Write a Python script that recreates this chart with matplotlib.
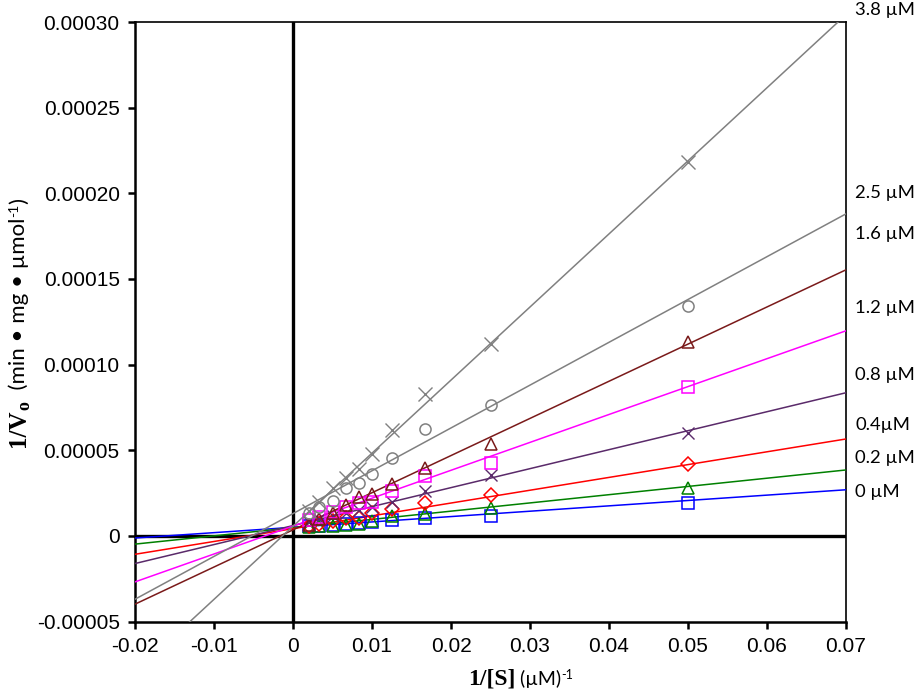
import matplotlib
matplotlib.use("Agg")
import matplotlib.pyplot as plt
import numpy as np

# ---- data ----
inv_S = [0.05, 0.025, 0.01667, 0.0125, 0.01, 0.00833, 0.00667, 0.005, 0.00333, 0.002]

series_labels = ["0 µM", "0.2 µM", "0.4µM", "0.8 µM", "1.2 µM", "1.6 µM", "2.5 µM", "3.8 µM"]

y_0   = [0.0000193, 0.0000115, 0.0000107, 0.0000095, 0.0000082, 0.0000075, 0.0000070, 0.0000062, 0.0000058, 0.0000055]
y_02  = [0.0000280, 0.0000165, 0.0000127, 0.0000117, 0.0000085, 0.0000072, 0.0000065, 0.0000058, 0.0000055, 0.0000050]
y_04  = [0.0000420, 0.0000239, 0.0000189, 0.0000156, 0.0000136, 0.0000107, 0.0000103, 0.0000085, 0.0000068, 0.0000056]
y_08  = [0.0000603, 0.0000356, 0.0000263, 0.0000195, 0.0000171, 0.0000152, 0.0000134, 0.0000115, 0.0000097, 0.0000082]
y_12  = [0.0000870, 0.0000428, 0.0000350, 0.0000259, 0.0000200, 0.0000193, 0.0000166, 0.0000140, 0.0000110, 0.0000090]
y_16  = [0.0001130, 0.0000535, 0.0000399, 0.0000302, 0.0000243, 0.0000224, 0.0000181, 0.0000136, 0.0000100, 0.0000065]
y_25  = [0.0001343, 0.0000765, 0.0000623, 0.0000454, 0.0000360, 0.0000311, 0.0000282, 0.0000204, 0.0000170, 0.0000136]
y_38  = [0.0002185, 0.0001120, 0.0000827, 0.0000617, 0.0000477, 0.0000389, 0.0000340, 0.0000282, 0.0000200, 0.0000146]

# fitted regression lines (slope, intercept)
slopes     = [0.000313, 0.000481, 0.000748, 0.001108, 0.001629, 0.002169, 0.002500, 0.004267]
intercepts = [0.0000050, 0.0000048, 0.0000042, 0.0000060, 0.0000057, 0.0000035, 0.0000130, 0.0000056]

label_y_px = [492, 458, 425, 375, 308, 234, 193, 10]  # figure pixel rows of right-side labels

x_ticks = [-0.02, -0.01, 0, 0.01, 0.02, 0.03, 0.04, 0.05, 0.06, 0.07]
x_tick_labels = ["-0.02", "-0.01", "0", "0.01", "0.02", "0.03", "0.04", "0.05", "0.06", "0.07"]
y_ticks = [-0.00005, 0, 0.00005, 0.0001, 0.00015, 0.0002, 0.00025, 0.0003]
y_tick_labels = ["-0.00005", "0", "0.00005", "0.00010", "0.00015", "0.00020", "0.00025", "0.00030"]

all_y = [y_0, y_02, y_04, y_08, y_12, y_16, y_25, y_38]
colors = ["#0000ff", "#008000", "#ff0000", "#5a2a6a", "#ff00ff", "#7a1a1a", "#808080", "#808080"]
markers = ["s", "^", "D", "x", "s", "^", "o", "x"]
msizes = [8, 9, 7, 9, 8, 9, 8, 10]

W, H = 916, 691
fig = plt.figure(figsize=(W / 100, H / 100), dpi=100)
left, right, top, bottom = 135, 846, 22, 621.5
ax = fig.add_axes([left / W, (H - bottom) / H, (right - left) / W, (bottom - top) / H])

ax.set_xlim(-0.02, 0.07)
ax.set_ylim(-0.00005, 0.0003)

xline = np.array([-0.02, 0.07])
for s, b, c in zip(slopes, intercepts, colors):
    ax.plot(xline, s * xline + b, color=c, lw=1.1, zorder=3)

for ys, c, m, ms in zip(all_y, colors, markers, msizes):
    if m == "x":
        ax.plot(inv_S, ys, linestyle="none", marker=m, color=c, ms=ms, mew=1.0, zorder=4)
    else:
        ax.plot(inv_S, ys, linestyle="none", marker=m, mfc="none", mec=c, ms=ms, mew=1.1, zorder=4)

ax.axhline(0, color="black", lw=2.4, zorder=2)
ax.axvline(0, color="black", lw=2.4, zorder=2)

for sp in ["left", "bottom"]:
    ax.spines[sp].set_linewidth(1.8)
for sp in ["right", "top"]:
    ax.spines[sp].set_linewidth(1.2)

ax.set_xticks(x_ticks)
ax.set_xticklabels(x_tick_labels)
ax.set_yticks(y_ticks)
ax.set_yticklabels(y_tick_labels)
ax.tick_params(axis="both", direction="out", length=5, width=1.8, labelsize=15, pad=6)
for lab in ax.get_xticklabels() + ax.get_yticklabels():
    lab.set_fontfamily("Liberation Sans")

# right-side labels
for lbl, py in zip(series_labels, label_y_px):
    fig.text(855 / W, (H - py) / H, lbl, fontsize=13.3, family="Lato", ha="left", va="center")

# composed axis labels
fig.canvas.draw()
renderer = fig.canvas.get_renderer()


def place_seq(pieces, x0, y0, rotation=0):
    x, y = x0, y0
    for txt, kw, perp in pieces:
        if rotation == 0:
            t = fig.text(x / W, (y + perp) / H, txt, ha="left", va="baseline", **kw)
            bb = t.get_window_extent(renderer)
            x = bb.x1
        else:
            t = fig.text((x - perp) / W, y / H, txt, ha="left", va="baseline",
                         rotation=90, rotation_mode="anchor", **kw)
            bb = t.get_window_extent(renderer)
            y = bb.y1


serif_b = dict(family="Liberation Serif", weight="bold", fontsize=17)
sans = dict(family="Lato", fontsize=14)
sans_small = dict(family="Lato", fontsize=9)
sans_y = dict(family="Lato", fontsize=16)
sans_y_small = dict(family="Lato", fontsize=10)

# x label
place_seq([
    ("1/[S]", serif_b, 0),
    (" (µM)", sans, 0),
    ("-1", sans_small, 6),
], 468, H - 685)

# y label (rotated)
place_seq([
    ("1/V", dict(family="Liberation Serif", weight="bold", fontsize=18), 0),
    ("o", dict(family="Liberation Serif", weight="bold", fontsize=13), -4),
    ("  (min • mg • µmol", sans_y, 0),
    ("-1", sans_y_small, 7),
    (")", sans_y, 0),
], 25, H - 447, rotation=90)

fig.savefig("out.png", dpi=100)
